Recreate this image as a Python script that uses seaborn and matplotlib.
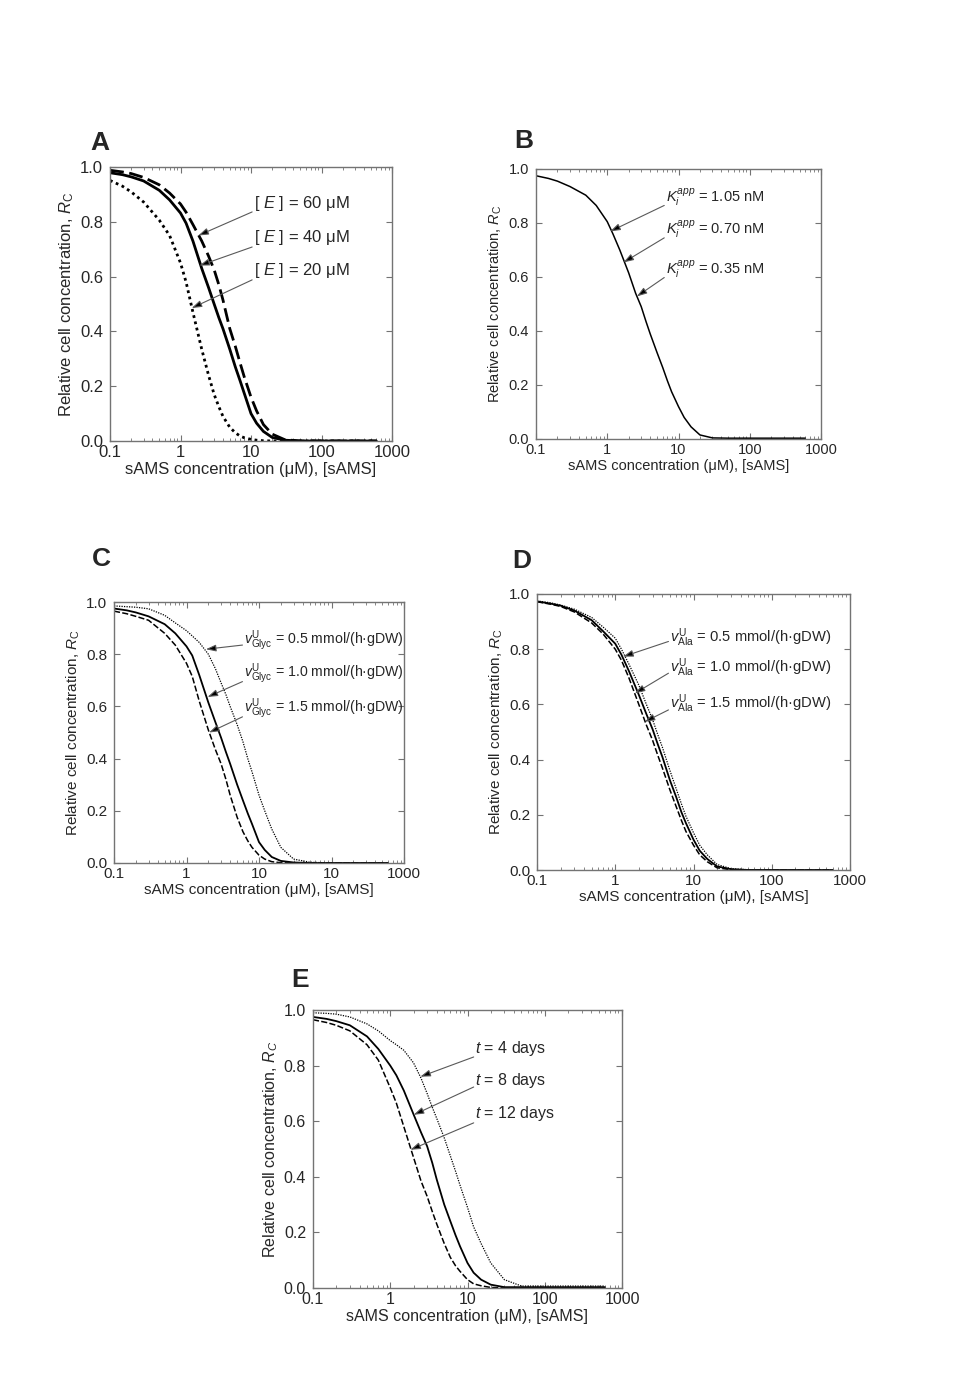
import matplotlib
matplotlib.use('Agg')
import matplotlib.pyplot as plt
import seaborn as sns

sns.set_style('ticks')
plt.rcParams['font.family'] = ['Liberation Sans', 'DejaVu Sans']
plt.rcParams['mathtext.fontset'] = 'custom'
plt.rcParams['mathtext.rm'] = 'Liberation Sans'
plt.rcParams['mathtext.it'] = 'Liberation Sans:italic'
plt.rcParams['mathtext.bf'] = 'Liberation Sans:bold'

# sAMS concentration (uM), shared grid for all curves
sams = [0.1, 0.15, 0.2, 0.3, 0.5, 0.7, 1, 1.2, 1.5, 2, 2.5, 3, 3.5, 4, 5, 6, 7, 8, 10, 12, 15, 20, 30, 50, 100, 600]

# A: enzyme concentration
a_e60 = [0.988, 0.982, 0.976, 0.962, 0.935, 0.905, 0.865, 0.835, 0.79, 0.73, 0.675, 0.625, 0.57, 0.515, 0.41,
         0.345, 0.285, 0.235, 0.16, 0.11, 0.06, 0.025, 0.005, 0.0, 0.0, 0.0]
a_e40 = [0.979, 0.972, 0.964, 0.949, 0.915, 0.88, 0.832, 0.795, 0.73, 0.63, 0.56, 0.50, 0.45, 0.41, 0.335,
         0.27, 0.22, 0.175, 0.10, 0.065, 0.035, 0.013, 0.003, 0.0, 0.0, 0.0]
a_e20 = [0.951, 0.93, 0.909, 0.872, 0.806, 0.75, 0.65, 0.58, 0.47, 0.335, 0.24, 0.17, 0.125, 0.09, 0.05,
         0.03, 0.018, 0.012, 0.006, 0.003, 0.001, 0.0, 0.0, 0.0, 0.0, 0.0]
a_labels = ['[ $E$ ] = 60 μM', '[ $E$ ] = 40 μM', '[ $E$ ] = 20 μM']

# B: Ki app (all three curves coincide)
b_ki = [0.975, 0.965, 0.955, 0.935, 0.903, 0.865, 0.805, 0.76, 0.70, 0.615, 0.54, 0.49, 0.435, 0.39, 0.32,
        0.265, 0.215, 0.175, 0.12, 0.08, 0.045, 0.015, 0.004, 0.003, 0.003, 0.003]
b_labels = ['$K_i^{app}$ = 1.05 nM', '$K_i^{app}$ = 0.70 nM', '$K_i^{app}$ = 0.35 nM']

# C: glycerol uptake
c_05 = [0.985, 0.982, 0.98, 0.974, 0.949, 0.92, 0.89, 0.87, 0.845, 0.80, 0.745, 0.69, 0.645, 0.60, 0.53,
        0.465, 0.40, 0.35, 0.26, 0.20, 0.13, 0.06, 0.015, 0.003, 0.0, 0.0]
c_10 = [0.975, 0.968, 0.96, 0.945, 0.915, 0.88, 0.83, 0.795, 0.72, 0.615, 0.54, 0.48, 0.425, 0.38, 0.30,
        0.24, 0.19, 0.15, 0.08, 0.05, 0.023, 0.008, 0.002, 0.0, 0.0, 0.0]
c_15 = [0.965, 0.955, 0.945, 0.93, 0.88, 0.835, 0.765, 0.715, 0.62, 0.51, 0.435, 0.38, 0.32, 0.26, 0.175,
        0.12, 0.085, 0.06, 0.03, 0.015, 0.005, 0.001, 0.0, 0.0, 0.0, 0.0]
c_labels = [r'$v^{\rm U}_{\rm Glyc}$ = 0.5 mmol/(h·gDW)', r'$v^{\rm U}_{\rm Glyc}$ = 1.0 mmol/(h·gDW)',
            r'$v^{\rm U}_{\rm Glyc}$ = 1.5 mmol/(h·gDW)']

# D: alanine uptake
d_05 = [0.975, 0.968, 0.96, 0.945, 0.915, 0.88, 0.84, 0.80, 0.745, 0.67, 0.60, 0.545, 0.49, 0.445, 0.36,
        0.295, 0.24, 0.195, 0.135, 0.09, 0.055, 0.02, 0.005, 0.001, 0.0, 0.0]
d_10 = [0.973, 0.965, 0.958, 0.94, 0.905, 0.865, 0.82, 0.78, 0.72, 0.635, 0.565, 0.51, 0.455, 0.41, 0.325,
        0.265, 0.21, 0.17, 0.11, 0.07, 0.04, 0.013, 0.003, 0.0, 0.0, 0.0]
d_15 = [0.972, 0.963, 0.955, 0.935, 0.895, 0.855, 0.80, 0.76, 0.695, 0.60, 0.525, 0.47, 0.415, 0.37, 0.29,
        0.23, 0.18, 0.14, 0.09, 0.055, 0.03, 0.008, 0.001, 0.0, 0.0, 0.0]
d_labels = [r'$v^{\rm U}_{\rm Ala}$ = 0.5 mmol/(h·gDW)', r'$v^{\rm U}_{\rm Ala}$ = 1.0 mmol/(h·gDW)',
            r'$v^{\rm U}_{\rm Ala}$ = 1.5 mmol/(h·gDW)']

# E: time
e_4 = [0.99, 0.988, 0.985, 0.975, 0.95, 0.925, 0.89, 0.875, 0.855, 0.81, 0.755, 0.70, 0.65, 0.61, 0.54,
       0.475, 0.42, 0.37, 0.29, 0.22, 0.16, 0.09, 0.03, 0.007, 0.007, 0.007]
e_8 = [0.975, 0.968, 0.96, 0.945, 0.905, 0.86, 0.80, 0.765, 0.71, 0.625, 0.56, 0.51, 0.45, 0.39, 0.30,
       0.24, 0.19, 0.15, 0.09, 0.055, 0.03, 0.012, 0.003, 0.003, 0.003, 0.003]
e_12 = [0.965, 0.955, 0.945, 0.925, 0.875, 0.82, 0.72, 0.665, 0.58, 0.47, 0.385, 0.33, 0.275, 0.23, 0.16,
        0.11, 0.08, 0.06, 0.03, 0.015, 0.008, 0.002, 0.0, 0.0, 0.0, 0.0]
e_labels = ['$t$ = 4 days', '$t$ = 8 days', '$t$ = 12 days']

xticks = [0.1, 1, 10, 100, 1000]
xticklabels = ['0.1', '1', '10', '100', '1000']
xticklabels_c = ['0.1', '1', '10', '10', '1000']
yticks = [0.0, 0.2, 0.4, 0.6, 0.8, 1.0]

fig = plt.figure(figsize=(9.6, 13.8), dpi=100)


def make_axes(left, top, right, bottom):
    return fig.add_axes([left / 960, 1 - bottom / 1380, (right - left) / 960, (bottom - top) / 1380])


def style_axes(ax, fs, ylab, xlabels):
    ax.set_xscale('log')
    ax.set_xlim(0.1, 1000)
    ax.set_ylim(0, 1)
    ax.set_xticks(xticks)
    ax.set_xticklabels(xlabels)
    ax.set_yticks(yticks)
    ax.set_yticklabels(['%.1f' % v for v in yticks])
    ax.tick_params(which='both', direction='in', top=True, right=True, color='0.45', labelsize=fs)
    ax.tick_params(axis='x', pad=3)
    ax.tick_params(axis='y', pad=5)
    ax.tick_params(which='major', length=4)
    ax.tick_params(which='minor', length=2)
    for s in ax.spines.values():
        s.set_color('0.45')
        s.set_linewidth(1.0)
    ax.set_xlabel('sAMS concentration (μM), [sAMS]', fontsize=fs, labelpad=1)
    ax.set_ylabel(ylab, fontsize=fs, labelpad=3)


def arrows(ax, labels, text_xy, tails, heads, fs):
    for lab, t, tail, head in zip(labels, text_xy, tails, heads):
        ax.text(t[0], t[1], lab, transform=ax.transAxes, fontsize=fs, va='center', ha='left')
        ax.annotate('', xy=head, xycoords='data', xytext=tail, textcoords='axes fraction',
                    arrowprops=dict(arrowstyle='-|>,head_length=0.6,head_width=0.2', fc='k', ec='0.35',
                                    lw=0.8, shrinkA=0, shrinkB=0))


ylab = r'Relative cell concentration, $R_{\rm C}$'

# ---- A
axA = make_axes(110, 167, 392, 441)
sns.lineplot(x=sams, y=a_e60, ax=axA, color='k', lw=2, linestyle=(0, (5, 2)))
sns.lineplot(x=sams, y=a_e40, ax=axA, color='k', lw=2, linestyle='-')
sns.lineplot(x=sams, y=a_e20, ax=axA, color='k', lw=2, linestyle=(0, (1, 1.3)))
style_axes(axA, 12, ylab, xticklabels)
arrows(axA, a_labels, [(0.512, 0.866), (0.512, 0.741), (0.512, 0.624)],
       [(0.504, 0.836), (0.504, 0.708), (0.504, 0.588)],
       [(1.79, 0.75), (1.85, 0.64), (1.44, 0.485)], 12)

# ---- B
axB = make_axes(536, 169, 821, 439)
sns.lineplot(x=sams, y=b_ki, ax=axB, color='k', lw=1.1)
style_axes(axB, 10.5, ylab, xticklabels)
arrows(axB, b_labels, [(0.455, 0.893), (0.455, 0.774), (0.455, 0.626)],
       [(0.45, 0.865), (0.45, 0.745), (0.45, 0.598)],
       [(1.1, 0.769), (1.69, 0.654), (2.6, 0.528)], 10.5)

# ---- C
axC = make_axes(114, 602, 404, 863)
sns.lineplot(x=sams, y=c_05, ax=axC, color='k', lw=0.9, linestyle=(0, (1, 1)))
sns.lineplot(x=sams, y=c_10, ax=axC, color='k', lw=1.3, linestyle='-')
sns.lineplot(x=sams, y=c_15, ax=axC, color='k', lw=1.1, linestyle=(0, (4, 1.5)))
style_axes(axC, 11, ylab, xticklabels_c)
arrows(axC, c_labels, [(0.448, 0.85), (0.448, 0.725), (0.448, 0.592)],
       [(0.443, 0.835), (0.443, 0.695), (0.443, 0.56)],
       [(1.85, 0.819), (1.95, 0.636), (2.05, 0.50)], 10.2)

# ---- D
axD = make_axes(537, 594, 850, 870)
sns.lineplot(x=sams, y=d_05, ax=axD, color='k', lw=0.9, linestyle=(0, (1, 1)))
sns.lineplot(x=sams, y=d_10, ax=axD, color='k', lw=1.3, linestyle='-')
sns.lineplot(x=sams, y=d_15, ax=axD, color='k', lw=1.1, linestyle=(0, (4, 1.5)))
style_axes(axD, 11, ylab, xticklabels)
arrows(axD, d_labels, [(0.425, 0.842), (0.425, 0.733), (0.425, 0.603)],
       [(0.42, 0.828), (0.42, 0.713), (0.42, 0.58)],
       [(1.26, 0.773), (1.78, 0.64), (2.38, 0.537)], 10.6)

# ---- E
axE = make_axes(313, 1010, 622, 1288)
sns.lineplot(x=sams, y=e_4, ax=axE, color='k', lw=0.9, linestyle=(0, (1, 1)))
sns.lineplot(x=sams, y=e_8, ax=axE, color='k', lw=1.3, linestyle='-')
sns.lineplot(x=sams, y=e_12, ax=axE, color='k', lw=1.1, linestyle=(0, (4, 1.5)))
style_axes(axE, 11.5, r'Relative cell concentration, $R_C$', xticklabels)
arrows(axE, e_labels, [(0.525, 0.863), (0.525, 0.748), (0.525, 0.629)],
       [(0.52, 0.831), (0.52, 0.723), (0.52, 0.594)],
       [(2.45, 0.76), (2.01, 0.623), (1.82, 0.497)], 11.5)

# panel letters
for letter, px, py in [('A', 90, 150), ('B', 514, 148), ('C', 92, 566), ('D', 512, 568), ('E', 291, 987)]:
    fig.text(px / 960, 1 - py / 1380, letter, fontsize=19, fontweight='bold', va='baseline', ha='left')

fig.savefig('out.png', dpi=100, facecolor='white')
